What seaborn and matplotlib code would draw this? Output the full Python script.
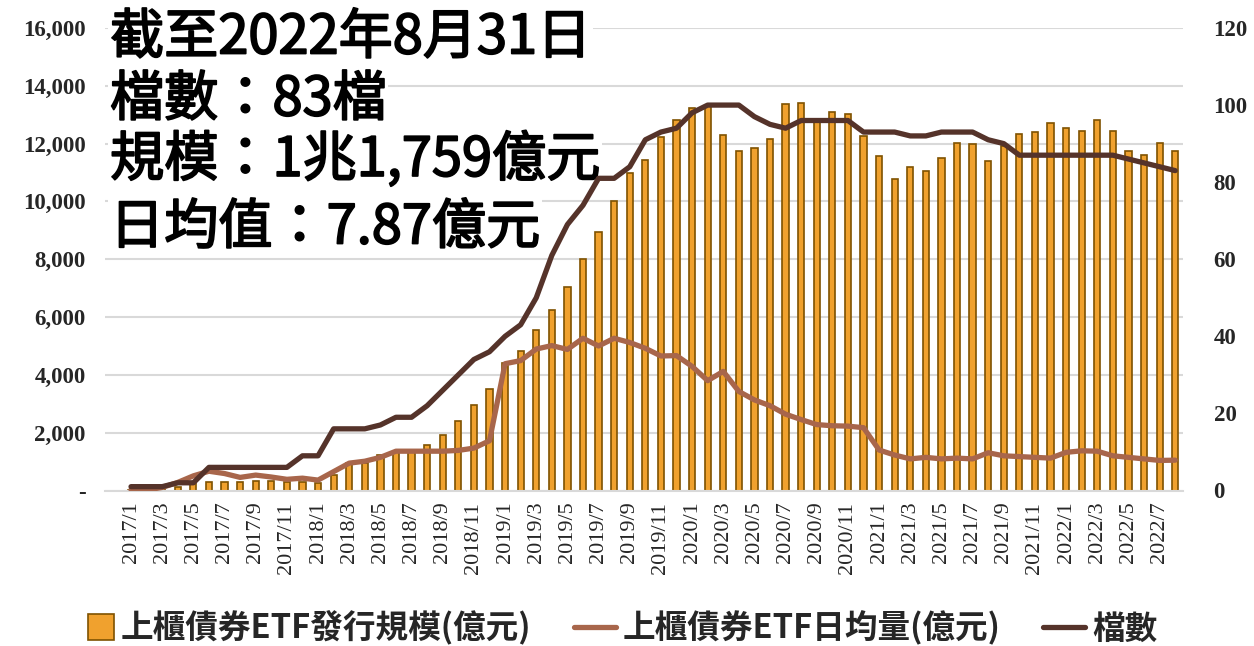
import numpy as np
import pandas as pd
import seaborn as sns
import matplotlib.pyplot as plt
import matplotlib.patheffects as pe
from matplotlib.patches import Patch, Rectangle
from matplotlib.lines import Line2D
from matplotlib.legend_handler import HandlerPatch

# monthly categories 2017/1 .. 2022/8
months = [f"{y}/{m}" for y in range(2017, 2023) for m in range(1, 13)][:68]

# 上櫃債券ETF發行規模 (億元), left axis
scale = [30, 50, 80, 130, 300, 300, 300, 300, 330, 330, 300, 300,
         250, 540, 940, 940, 1230, 1340, 1340, 1590, 1920, 2410, 2950, 3500,
         4400, 4840, 5560, 6250, 7040, 8000, 8930, 10000, 11000, 11440, 12240, 12830,
         13220, 13300, 12310, 11730, 11840, 12150, 13370, 13420, 12850, 13080, 13040, 12280,
         11560, 10780, 11190, 11040, 11500, 12020, 12000, 11390, 11910, 12350, 12400, 12720,
         12540, 12430, 12810, 12430, 11760, 11590, 12020, 11759]

# 上櫃債券ETF日均量 (億元), right axis
volume = [0.2, 0.1, 0.8, 2.1, 3.8, 5.0, 4.4, 3.4, 4.0, 3.5, 2.9, 3.2,
          2.7, 4.9, 7.1, 7.6, 8.6, 10.2, 10.2, 10.2, 10.2, 10.4, 11.0, 12.9,
          32.9, 33.7, 36.7, 37.6, 36.6, 39.5, 37.5, 39.5, 38.4, 36.9, 34.9, 35.0,
          32.2, 28.5, 30.9, 25.7, 23.5, 22.0, 19.8, 18.4, 17.1, 16.8, 16.7, 16.3,
          10.5, 9.2, 8.2, 8.6, 8.2, 8.4, 8.2, 9.8, 9.0, 8.8, 8.6, 8.4,
          9.9, 10.3, 10.2, 9.0, 8.6, 8.2, 7.8, 7.87]

# 檔數, right axis
count = [1, 1, 1, 2, 2, 6, 6, 6, 6, 6, 6, 9,
         9, 16, 16, 16, 17, 19, 19, 22, 26, 30, 34, 36,
         40, 43, 50, 61, 69, 74, 81, 81, 84, 91, 93, 94,
         98, 100, 100, 100, 97, 95, 94, 96, 96, 96, 96, 93,
         93, 93, 92, 92, 93, 93, 93, 91, 90, 87, 87, 87,
         87, 87, 87, 87, 86, 85, 84, 83]

notes = ["截至2022年8月31日", "檔數：83檔", "規模：1兆1,759億元", "日均值：7.87億元"]
legend_labels = ["上櫃債券ETF發行規模(億元)", "上櫃債券ETF日均量(億元)", "檔數"]

BAR = "#F0A12E"
BAR_EDGE = "#7F5200"
LIGHT = "#A8664B"
DARK = "#55332A"
GRID = "#D9D9D9"

sns.set_theme(style="white")
plt.rcParams['font.family'] = ['Noto Sans CJK TC', 'DejaVu Sans']

df = pd.DataFrame({"month": months, "scale": scale, "volume": volume, "count": count})
df["pos"] = np.arange(len(df))

W, H = 1254, 646
fig = plt.figure(figsize=(W / 100, H / 100), dpi=100)
ax = fig.add_axes([105 / W, 1 - 490.5 / H, (1183 - 105) / W, (490.5 - 28) / H])

sns.barplot(data=df, x="month", y="scale", ax=ax, color=BAR, saturation=1,
            edgecolor=BAR_EDGE, linewidth=1.2, width=0.4)

ax2 = ax.twinx()
sns.lineplot(data=df, x="pos", y="volume", ax=ax2, color=LIGHT, lw=3.8, zorder=3)
sns.lineplot(data=df, x="pos", y="count", ax=ax2, color=DARK, lw=3.8, zorder=4)

ax.set_xlim(-1.67, 67.5)
ax.set_ylim(0, 16000)
ax2.set_ylim(0, 120)

ax.set_axisbelow(True)
ax.yaxis.grid(True, color=GRID, lw=1.5)
ax.xaxis.grid(False)
for a in (ax, ax2):
    for s in a.spines.values():
        s.set_visible(False)
ax.spines["bottom"].set_visible(True)
ax.spines["bottom"].set_color(GRID)
ax.spines["bottom"].set_linewidth(1.5)

yt = np.arange(0, 16001, 2000)
ax.set_yticks(yt)
ax.set_yticklabels(["-" if v == 0 else f"{v:,}" for v in yt])
ax.tick_params(axis="y", length=0, pad=14)
ax2.set_yticks(np.arange(0, 121, 20))
ax2.set_yticklabels([str(v) for v in range(0, 121, 20)])
ax2.tick_params(axis="y", length=0, pad=22)
for lab in ax.get_yticklabels() + ax2.get_yticklabels():
    lab.set_fontfamily("Liberation Serif")
    lab.set_fontweight("bold")
    lab.set_fontsize(16.5)

ax.set_xticks(df["pos"][::2])
ax.set_xticklabels(df["month"][::2], rotation=90)
for lab in ax.get_xticklabels():
    lab.set_fontfamily("Liberation Serif")
    lab.set_fontsize(16)
ax.tick_params(axis="x", length=0, pad=8)
ax.set_xlabel("")
ax.set_ylabel("")
ax2.set_xlabel("")
ax2.set_ylabel("")

# summary notes, top left (under the lines, over the grid)
for txt, yc in zip(notes, [38, 100, 160, 228]):
    ax2.text(110 / W, 1 - yc / H, txt, transform=fig.transFigure, fontsize=39,
             va="center", ha="left", color="black", zorder=2,
             path_effects=[pe.withStroke(linewidth=1.3, foreground="black")],
             bbox=dict(facecolor="white", edgecolor="none", pad=1))


def square_patch(legend, orig_handle, xdescent, ydescent, width, height, fontsize):
    s = height * 1.15
    return Rectangle((width - s - xdescent, -ydescent + (height - s) / 2), s, s)


handles = [Patch(facecolor=BAR, edgecolor=BAR_EDGE, linewidth=1.2),
           Line2D([], [], color=LIGHT, lw=3.8),
           Line2D([], [], color=DARK, lw=3.8)]
fig.legend(handles, legend_labels, loc="lower center", bbox_to_anchor=(0.49, -0.045),
           ncol=3, frameon=False, handlelength=1.3, handletextpad=0.2, columnspacing=1.3,
           handler_map={Patch: HandlerPatch(patch_func=square_patch)},
           prop=dict(family=["Noto Sans CJK TC", "DejaVu Sans"], weight="bold", size=23.5))

fig.savefig("out.png", dpi=100)
